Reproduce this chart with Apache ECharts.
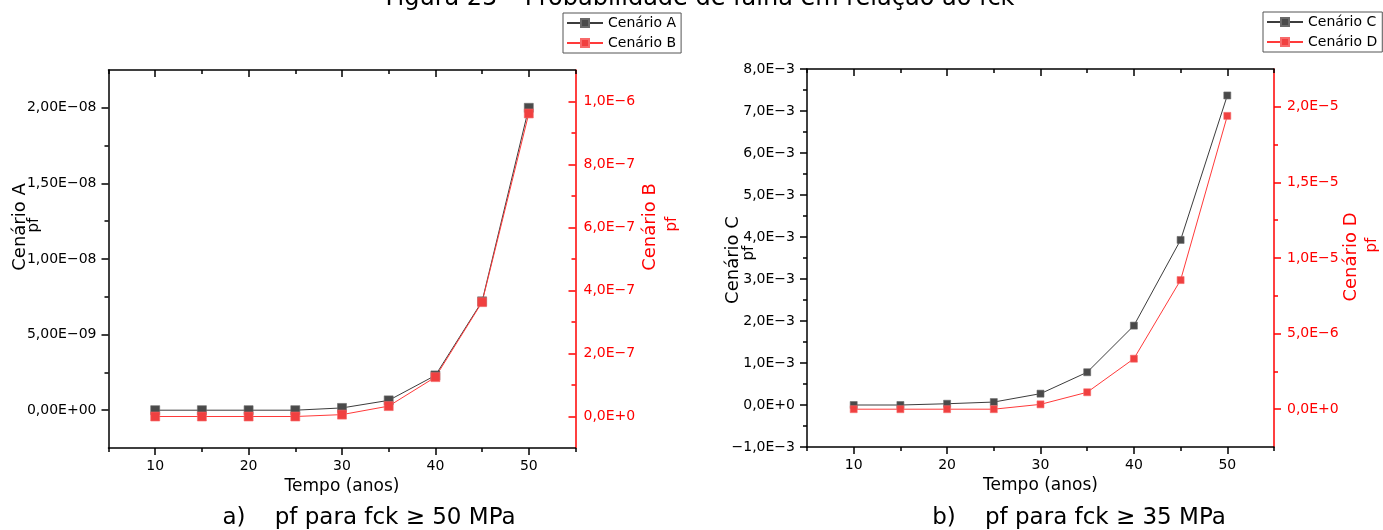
<!DOCTYPE html>
<html>
<head>
<meta charset="utf-8">
<script src="https://cdn.jsdelivr.net/npm/echarts@6/dist/echarts.min.js"></script>
<style>
  html, body { margin: 0; padding: 0; background: #fff; }
  #chart { width: 1383px; height: 530px; }
</style>
</head>
<body>
<div id="chart"></div>
<script>
// Failure probability over time for four scenarios
const years = [10, 15, 20, 25, 30, 35, 40, 45, 50];
const cenarioA = [0, 0, 0, 0, 1.5e-10, 6.5e-10, 2.3e-9, 7.2e-9, 2.0e-8];
const cenarioB = [0, 0, 0, 0, 6e-9, 3.3e-8, 1.25e-7, 3.63e-7, 9.62e-7];
const cenarioC = [0, 0, 3e-5, 7e-5, 2.7e-4, 7.8e-4, 1.89e-3, 3.93e-3, 7.37e-3];
const cenarioD = [0, 0, 0, 0, 3.2e-7, 1.12e-6, 3.34e-6, 8.54e-6, 1.94e-5];

// Tick positions and their printed labels
const xMajor = [10, 20, 30, 40, 50];
const xMinor = [5, 15, 25, 35, 45, 55];
const xLabels = ['10', '20', '30', '40', '50'];

const yTicksA = [0, 5e-9, 1e-8, 1.5e-8, 2e-8];
const yLabelsA = ['0,00E+00', '5,00E\u221209', '1,00E\u221208', '1,50E\u221208', '2,00E\u221208'];
const yMinorA = [2.5e-9, 7.5e-9, 1.25e-8, 1.75e-8];

const yTicksB = [0, 2e-7, 4e-7, 6e-7, 8e-7, 1e-6];
const yLabelsB = ['0,0E+0', '2,0E\u22127', '4,0E\u22127', '6,0E\u22127', '8,0E\u22127', '1,0E\u22126'];
const yMinorB = [1e-7, 3e-7, 5e-7, 7e-7, 9e-7];

const yTicksC = [-1e-3, 0, 1e-3, 2e-3, 3e-3, 4e-3, 5e-3, 6e-3, 7e-3, 8e-3];
const yLabelsC = ['\u22121,0E\u22123', '0,0E+0', '1,0E\u22123', '2,0E\u22123', '3,0E\u22123',
                  '4,0E\u22123', '5,0E\u22123', '6,0E\u22123', '7,0E\u22123', '8,0E\u22123'];
const yMinorC = [-5e-4, 5e-4, 1.5e-3, 2.5e-3, 3.5e-3, 4.5e-3, 5.5e-3, 6.5e-3, 7.5e-3];

const yTicksD = [0, 5e-6, 1e-5, 1.5e-5, 2e-5];
const yLabelsD = ['0,0E+0', '5,0E\u22126', '1,0E\u22125', '1,5E\u22125', '2,0E\u22125'];
const yMinorD = [2.5e-6, 7.5e-6, 1.25e-5, 1.75e-5];

const FONT = 'DejaVu Sans';
const BLACK = '#000000';
const RED = '#ff0000';

function lookup(ticks, labels) {
  return function (v) {
    const i = ticks.findIndex(t => Math.abs(t - v) <= Math.abs(t) * 1e-6 + 1e-20);
    return i < 0 ? '' : labels[i];
  };
}

function xAxesFor(grid) {
  const base = { type: 'value', gridIndex: grid, min: 5, max: 55, splitLine: { show: false } };
  const line = { show: true, onZero: false, lineStyle: { color: BLACK, width: 1.5 } };
  const noLine = { show: false, onZero: false };
  const tickStyle = { color: BLACK, width: 1.5 };
  return [
    Object.assign({}, base, {
      position: 'bottom', axisLine: line,
      axisTick: { show: true, inside: false, length: 7, customValues: xMajor, lineStyle: tickStyle },
      axisLabel: { show: true, customValues: xMajor, formatter: lookup(xMajor, xLabels), margin: 11,
                   color: BLACK, fontSize: 14, fontFamily: FONT },
      name: 'Tempo (anos)', nameLocation: 'middle', nameGap: 30,
      nameTextStyle: { color: BLACK, fontSize: 17, fontFamily: FONT }
    }),
    Object.assign({}, base, {
      position: 'bottom', axisLine: noLine,
      axisTick: { show: true, inside: false, length: 4, customValues: xMinor, lineStyle: tickStyle },
      axisLabel: { show: false }
    }),
    Object.assign({}, base, {
      position: 'top', axisLine: line,
      axisTick: { show: true, inside: true, length: 7, customValues: xMajor, lineStyle: tickStyle },
      axisLabel: { show: false }
    }),
    Object.assign({}, base, {
      position: 'top', axisLine: noLine,
      axisTick: { show: true, inside: true, length: 4, customValues: xMinor, lineStyle: tickStyle },
      axisLabel: { show: false }
    })
  ];
}

function yAxesFor(grid, side, min, max, ticks, labels, minor, color, inside, margin) {
  const base = { type: 'value', gridIndex: grid, position: side, min: min, max: max, splitLine: { show: false } };
  const tickStyle = { color: color, width: 1.5 };
  return [
    Object.assign({}, base, {
      axisLine: { show: true, onZero: false, lineStyle: { color: color, width: 1.5 } },
      axisTick: { show: true, inside: inside, length: 7, customValues: ticks, lineStyle: tickStyle },
      axisLabel: { show: true, customValues: ticks, formatter: lookup(ticks, labels), margin: margin,
                   color: color, fontSize: 14, fontFamily: FONT }
    }),
    Object.assign({}, base, {
      axisLine: { show: false, onZero: false },
      axisTick: { show: true, inside: inside, length: 4, customValues: minor, lineStyle: tickStyle },
      axisLabel: { show: false }
    })
  ];
}

function points(values) {
  return years.map((x, i) => [x, values[i]]);
}

function darkSeries(name, xi, yi, values, size) {
  return {
    type: 'line', name: name, xAxisIndex: xi, yAxisIndex: yi, data: points(values),
    symbol: 'rect', symbolSize: size, showSymbol: true,
    lineStyle: { color: '#3c3c3c', width: 1 },
    itemStyle: { color: '#4a4a4a', borderColor: '#6a6a6a', borderWidth: 0.6 },
    emphasis: { disabled: true }
  };
}

function redSeries(name, xi, yi, values, size) {
  return {
    type: 'line', name: name, xAxisIndex: xi, yAxisIndex: yi, data: points(values),
    symbol: 'rect', symbolSize: size, showSymbol: true,
    lineStyle: { color: '#ff3a3a', width: 1 },
    itemStyle: { color: '#f04040', borderColor: '#f76a6a', borderWidth: 0.6 },
    emphasis: { disabled: true }
  };
}

function rotatedText(x, y, text, color, size) {
  return {
    type: 'text', x: x, y: y, rotation: Math.PI / 2,
    style: { text: text, fill: color, font: size + 'px "' + FONT + '"', align: 'center', verticalAlign: 'middle' }
  };
}

function plainText(x, y, text, size) {
  return {
    type: 'text', x: x, y: y,
    style: { text: text, fill: BLACK, font: size + 'px "' + FONT + '"', align: 'center', verticalAlign: 'middle' }
  };
}

const legendBase = {
  orient: 'vertical', itemWidth: 36, itemHeight: 10, itemGap: 6,
  padding: [3, 5, 3, 3], borderColor: '#555', borderWidth: 1, backgroundColor: '#fff',
  textStyle: { color: BLACK, fontSize: 14, fontFamily: FONT }, selectedMode: false
};

const option = {
  animation: false,
  backgroundColor: '#ffffff',
  grid: [
    { left: 108.5, top: 70, width: 467, height: 378 },
    { left: 807, top: 69, width: 467, height: 378 }
  ],
  xAxis: [].concat(xAxesFor(0), xAxesFor(1)),
  yAxis: [].concat(
    yAxesFor(0, 'left', -2.5e-9, 2.25e-8, yTicksA, yLabelsA, yMinorA, BLACK, false, 12),
    yAxesFor(0, 'right', -1e-7, 1.1e-6, yTicksB, yLabelsB, yMinorB, RED, true, 8),
    yAxesFor(1, 'left', -1e-3, 8e-3, yTicksC, yLabelsC, yMinorC, BLACK, false, 12),
    yAxesFor(1, 'right', -2.5e-6, 2.25e-5, yTicksD, yLabelsD, yMinorD, RED, false, 13)
  ),
  legend: [
    Object.assign({}, legendBase, { left: 563, top: 13, data: ['Cenário A', 'Cenário B'] }),
    Object.assign({}, legendBase, { left: 1263, top: 12, data: ['Cenário C', 'Cenário D'] })
  ],
  series: [
    darkSeries('Cenário A', 0, 0, cenarioA, 9),
    redSeries('Cenário B', 0, 2, cenarioB, 9),
    darkSeries('Cenário C', 4, 4, cenarioC, 7),
    redSeries('Cenário D', 4, 6, cenarioD, 7)
  ],
  graphic: [
    plainText(700, -1, 'Figura 25 \u2013 Probabilidade de falha em relação ao fck', 24),
    plainText(369, 518, 'a)    pf para fck \u2265 50 MPa', 23),
    plainText(1079, 518, 'b)    pf para fck \u2265 35 MPa', 23),
    rotatedText(20.5, 227, 'Cenário A', BLACK, 18),
    rotatedText(34, 225, 'pf', BLACK, 15),
    rotatedText(650, 227, 'Cenário B', RED, 18),
    rotatedText(672, 224, 'pf', RED, 15),
    rotatedText(733, 260, 'Cenário C', BLACK, 18),
    rotatedText(749, 253, 'pf', BLACK, 15),
    rotatedText(1351, 257, 'Cenário D', RED, 18),
    rotatedText(1372, 245, 'pf', RED, 15)
  ]
};

const chart = echarts.init(document.getElementById('chart'), null, { renderer: 'canvas' });
chart.setOption(option);
</script>
</body>
</html>
